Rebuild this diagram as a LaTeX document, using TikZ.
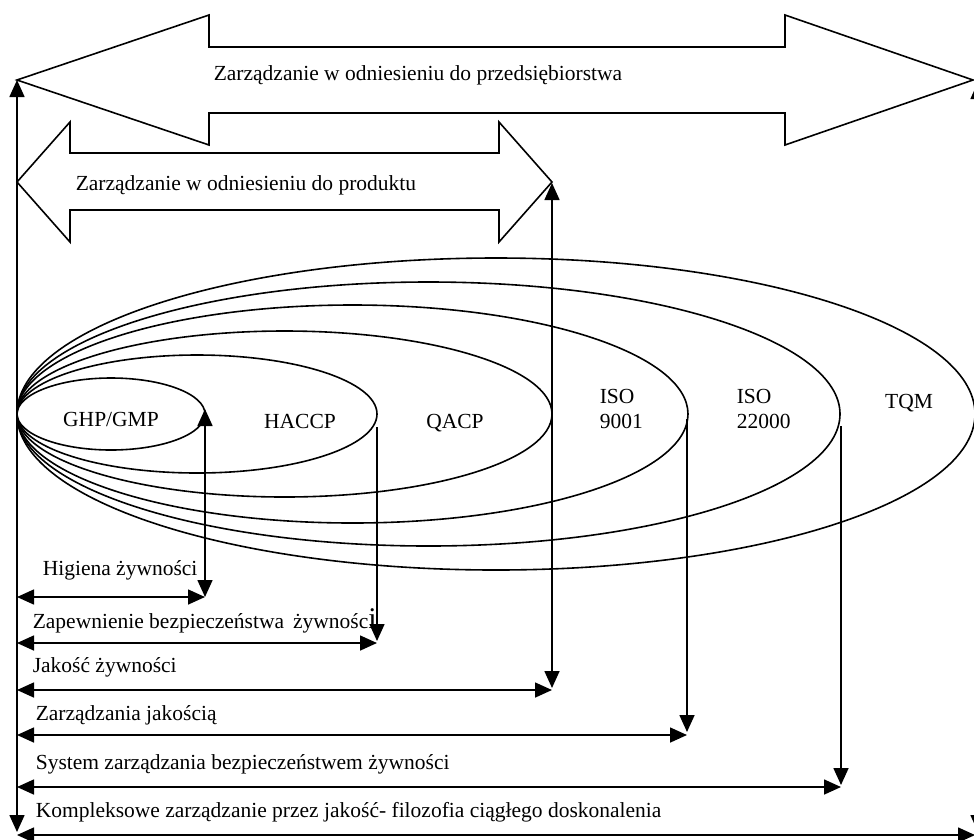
\documentclass[tikz,border=0pt]{standalone}
\usepackage{fontspec}
\setmainfont{Liberation Serif}
\usetikzlibrary{arrows.meta}
\begin{document}
\begin{tikzpicture}[x=1pt,y=-1pt,line width=1.6pt,
  lbl/.style={anchor=base west,inner sep=0pt,font=\fontsize{21.5}{26}\selectfont},
  elbl/.style={anchor=base,inner sep=0pt,font=\fontsize{21.5}{26}\selectfont},
  both/.style={{Triangle[length=17pt,width=15pt]}-{Triangle[length=17pt,width=15pt]}},
  one/.style={-{Triangle[length=17pt,width=15pt]}},
  blockarrow/.style={draw,line width=1.6pt,line join=miter}]
\useasboundingbox (0,0) rectangle (974,839);
\clip (0,0) rectangle (974,839);
% block arrows
\draw[blockarrow] (17,80) -- (209,15) -- (209,47) -- (785,47) -- (785,15) -- (973,80) -- (785,145) -- (785,113) -- (209,113) -- (209,145) -- cycle;
\node[lbl] (tent) at (213,80) {Zarządzanie w odniesieniu do przedsiębiorstwa};
\draw[blockarrow] (17,182) -- (70,122) -- (70,153) -- (499,153) -- (499,122) -- (552,182) -- (499,242) -- (499,210) -- (70,210) -- (70,242) -- cycle;
\node[lbl] (tprod) at (75,190) {Zarządzanie w odniesieniu do produktu};
% ellipses
\draw (111,414) ellipse [x radius=94,y radius=36];
\draw (197,414) ellipse [x radius=180,y radius=59];
\draw (284.5,414) ellipse [x radius=267.5,y radius=83];
\draw (352.5,414) ellipse [x radius=335.5,y radius=109];
\draw (428.5,414) ellipse [x radius=411.5,y radius=132];
\draw (496,414) ellipse [x radius=479,y radius=156];
\node[elbl] (ghp) at (111,426) {GHP/GMP};
\node[elbl] (haccp) at (300,428) {HACCP};
\node[elbl] (qacp) at (455,428) {QACP};
\node[elbl,align=left,anchor=north west,font=\fontsize{21.5}{25}\selectfont] (iso9) at (599,388) {ISO\\9001};
\node[elbl,align=left,anchor=north west,font=\fontsize{21.5}{25}\selectfont] (iso22) at (736,388) {ISO\\22000};
\node[elbl] (tqm) at (909,408) {TQM};
% coordinates
\coordinate (L0) at (17,80);
\coordinate (L1) at (17,832);
\coordinate (R0) at (978,82);
\coordinate (R1) at (978,832);
\coordinate (g0) at (205,409);
\coordinate (g1) at (205,597);
\coordinate (h0) at (377,427);
\coordinate (h1) at (377,641);
\coordinate (q0) at (552,183);
\coordinate (q1) at (552,688);
\coordinate (i0) at (687,419);
\coordinate (i1) at (687,732);
\coordinate (s0) at (841,426);
\coordinate (s1) at (841,785);
\coordinate (a0) at (17,597);
\coordinate (b0) at (17,643);
\coordinate (b1) at (377,643);
\coordinate (c0) at (17,690);
\coordinate (c1) at (552,690);
\coordinate (d0) at (17,735);
\coordinate (d1) at (687,735);
\coordinate (e0) at (17,787);
\coordinate (e1) at (841,787);
\coordinate (f0) at (17,835);
\coordinate (f1) at (975,835);
% vertical arrows
\draw[both] (L1) -- (L0);
\draw[both] (R1) -- (R0);
\draw[both] (g1) -- (g0);
\draw[one] (h0) -- (h1);
\draw[both] (q1) -- (q0);
\draw[one] (i0) -- (i1);
\draw[one] (s0) -- (s1);
% horizontal arrows
\draw[both] (a0) -- (g1);
\draw[both] (b0) -- (b1);
\draw[both] (c0) -- (c1);
\draw[both] (d0) -- (d1);
\draw[both] (e0) -- (e1);
\draw[both] (f0) -- (f1);
% labels
\node[lbl] (t1) at (42,575) {Higiena żywności};
\node[lbl] (t2) at (32,628) {Zapewnienie bezpieczeństwa\, żywnośc{\fontsize{30}{30}\selectfont i}};
\node[lbl] (t3) at (32,672) {Jakość żywności};
\node[lbl] (t4) at (35,720) {Zarządzania jakością};
\node[lbl] (t5) at (35,769) {System zarządzania bezpieczeństwem żywności};
\node[lbl] (t6) at (35,817) {Kompleksowe zarządzanie przez jakość- filozofia ciągłego doskonalenia};
\end{tikzpicture}
\end{document}
